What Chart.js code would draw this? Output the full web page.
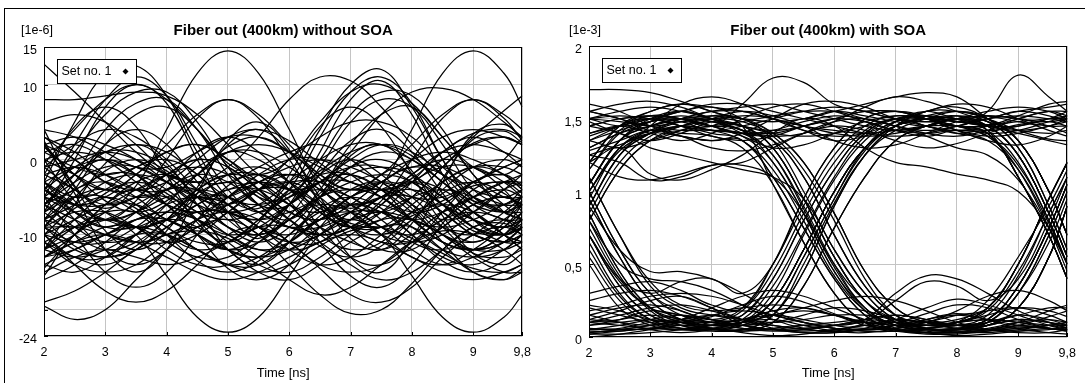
<!DOCTYPE html>
<html>
<head>
<meta charset="utf-8">
<script src="https://cdn.jsdelivr.net/npm/chart.js@4"></script>
<style>
  body { margin: 0; background: #fff; width: 1085px; height: 383px; overflow: hidden; position: relative; }
  #frame { position: absolute; left: 4px; top: 8px; width: 1081px; height: 375px; border-left: 1px solid #000; border-top: 1px solid #000; box-sizing: border-box; }
  canvas { position: absolute; top: 9px; }
  #noSoa { left: 5px; }
  #withSoa { left: 540px; }
</style>
</head>
<body>
<div id="frame"></div>
<canvas id="noSoa" width="535" height="374"></canvas>
<canvas id="withSoa" width="545" height="374"></canvas>
<script>
// sample times of every trace [ns]
const timeNs = [2, 2.5, 3, 3.5, 4, 4.5, 5, 5.5, 6, 6.5, 7, 7.5, 8, 8.5, 9, 9.5, 9.8];
const timeTicks = [2, 3, 4, 5, 6, 7, 8, 9, 9.8];
const noSoaTicks = [15, 10, 0, -10, -20, -23.5];
const soaTicks = [0, 0.5, 1, 1.5, 2];

// fiber out without SOA, units of 1e-6
const noSoaTraces = [
  [-5, 2, 8, 11, 8.5, 2, -4, -7, -4, 3, 9, 11, 7.5, 0, -5, -7, -5.5],
  [-7, 0, 7, 10, 7.5, 0, -7, -10.5, -6, 1, 8, 10.5, 6, -2, -8, -10, -8],
  [-3, 5, 11.5, 12.5, 8.5, 1, -5, -6.5, -3, 4, 10, 12, 7, 0, -5.5, -6, -4],
  [-8, -3, 2, 4, 2, -3, -8, -10, -7.5, -2, 2.5, 4, 1, -4.5, -9, -10, -8.5],
  [-9, -5, -1.5, 0, -1.5, -5, -9, -10, -8, -4.5, -1, 0, -2, -6, -9.5, -10, -9],
  [-12, -8, -4.5, -3, -4.5, -8, -12, -13, -11, -7.5, -4, -3, -5, -9, -12.5, -13, -12],
  [-5, -2, 1, 2, 1, -2, -5, -6, -4.5, -1.5, 1, 2, 0.5, -3, -5.5, -6, -5],
  [-14.5, -10, -6, -4, -6, -10, -14.5, -16, -14, -9, -5, -4, -6.5, -11, -15, -16, -14.5],
  [-6, -2, 4, 7.5, 8, 4, -2, -6, -6, -1, 5, 8, 7, 2, -4, -6, -6],
  [-12, -6, -0.5, 2, -0.5, -6, -12, -14, -11, -5, 0.5, 2, -1.5, -7.5, -12.5, -14, -12.5],
  [-0.5, 4, 8, 10, 8, 4, -0.5, -2, 0, 5, 9, 10, 7.5, 3, -1, -2, -0.5],
  [-14, -12, -10, -9, -10, -12, -14, -15, -14, -11.5, -9.5, -9, -10.5, -12.5, -14.5, -15, -14],
  [2, -3.7, -9.5, -12, -9.5, -3.7, 2, 4, 1, -5, -10.5, -12, -8.5, -2.5, 2.7, 3.8, 2.2],
  [-3.5, -8, -12, -14, -12, -8, -3.5, -2, -4, -9, -13, -14, -11.5, -7, -3, -2, -3.5],
  [1.7, -2, -5.5, -7, -5.5, -2, 1.7, 3, 1, -2.5, -6, -7, -5, -1, 2.2, 3, 2],
  [-10, -14, -17.5, -19, -17.5, -14, -10, -9, -11, -14.5, -18, -19, -17, -13, -10, -9, -10],
  [3, 0, -3, -4, -3, 0, 3, 4, 2.5, -0.5, -3, -4, -2.5, 1, 3.5, 4, 3],
  [-5, -10, -15, -17, -15, -10, -5, -3, -5.5, -11, -15.5, -17, -14, -8.5, -4, -3, -4.5],
  [-4, -6, -8, -9, -8, -6, -4, -3, -4, -6.5, -8.5, -9, -7.5, -5.5, -3.5, -3, -3.5],
  [2.5, -4.5, -12, -15, -12, -4.5, 2.5, 5, 1.3, -6, -13, -15, -10.5, -3, 3.4, 4.7, 2.8],
  [4, -3.5, -6.5, -3.5, 4, 11.5, 14.5, 11.5, 4, -3.5, -6.5, -3.5, 4, 11.5, 14.5, 11.5, 7],
  [-3, -7, -9, -7, -3, 1, 3, 1, -3, -7, -9, -7, -3, 1, 3, 1, -1],
  [-8, -11.5, -13, -11.5, -8, -4.5, -3, -4.5, -8, -11.5, -13, -11.5, -8, -4.5, -3, -4.5, -6.5],
  [0, -5.5, -8, -5.5, 0, 5.5, 8, 5.5, 0, -5.5, -8, -5.5, 0, 5.5, 8, 5.5, 2.5],
  [-11, -14, -15, -14, -11, -8, -7, -8, -11, -14, -15, -14, -11, -8, -7, -8, -9.5],
  [2, -2, -4, -2, 2, 6, 8, 6, 2, -2, -4, -2, 2, 6, 8, 6, 4],
  [-15.5, -10, -8, -10, -15.5, -21, -23, -21, -15.5, -10, -8, -10, -15.5, -21, -23, -21, -18],
  [-6, -2, 0, -2, -6, -10, -12, -10, -6, -2, 0, -2, -6, -10, -12, -10, -8],
  [-10, -6.5, -5, -6.5, -10, -13.5, -15, -13.5, -10, -6.5, -5, -6.5, -10, -13.5, -15, -13.5, -11.5],
  [-2, 4.4, 7, 4.4, -2, -8.4, -11, -8.4, -2, 4.4, 7, 4.4, -2, -8.4, -11, -8.4, -4.8],
  [-13, -11, -10, -11, -13, -15, -16, -15, -13, -11, -10, -11, -13, -15, -16, -15, -14],
  [-19.5, -21.3, -20, -16, -12, -9, -8, -10, -14, -18, -20.5, -20, -16.5, -12, -9, -8.5, -10],
  [-19, -17.5, -15, -12, -10, -9.5, -10.5, -13, -16, -18, -17, -14, -11, -9.5, -10, -12, -14],
  [12.7, 9, 5, 1, -2, -3, -1, 3, 8, 11, 10.5, 7, 2, -2, -3, 0, 3],
  [8, 8, 8.5, 9, 8.5, 6, 2, -2, -4, -3, 1, 6, 9, 9.5, 8, 5, 3],
  [-10, -13, -13, -10, -6, -2, 1, 0, -3, -7, -9, -8, -5, -1, 3, 6.5, 8.5],
  [-3, -5, -4, -1, 0, -2, -6, -9, -10, -8, -5, -4, -6, -9, -10, -8, -6],
  [-9, -7, -7, -9, -11, -10, -7, -4, -3, -5, -9, -12, -12, -9, -6, -5, -6],
  [1, 2, 0, -3, -6, -7, -5, -2, 0, 0, -2, -5, -7, -6, -3, -1, 0],
  [-6, -9, -11, -10, -7, -5, -5, -7, -9, -8, -5, -3, -4, -7, -10, -11, -10],
  [-12, -10, -7, -5, -5, -7, -10, -12, -11, -8, -6, -6, -8, -11, -12, -11, -9],
  [-1, -4, -6, -5, -2, 0, -1, -4, -7, -8, -6, -3, -1, -2, -5, -7, -7],
  [-16, -14, -11, -8, -7, -8, -11, -14, -15, -13, -10, -8, -8, -10, -13, -15, -15],
  [4, 3, 1, -1, -1, 1, 3, 3, 1, -2, -4, -3, 0, 3, 4, 3, 2],
  [-7, -4, -3, -5, -8, -9, -7, -4, -2, -3, -6, -9, -10, -8, -5, -3, -3],
  [-4, -1, 1, 1, -1, -5, -9, -11, -9, -5, -1, 1, 0, -3, -7, -10, -11],
  [-14, -15, -13, -10, -8, -9, -12, -15, -16, -14, -11, -9, -9, -12, -15, -16, -15],
  [2, 0, -3, -5, -4, -1, 1, 1, -1, -4, -6, -5, -2, 1, 2, 1, 0],
  [-6, -3, -1, -1, -3, -6, -9, -10, -8, -5, -2, -1, -2, -5, -8, -10, -9],
  [-10, -8, -6, -6, -8, -10, -12, -11, -8, -5, -4, -5, -8, -11, -12, -11, -9],
  [-2, -4, -7, -9, -8, -5, -2, -1, -3, -6, -9, -10, -8, -4, -1, 0, -1],
  [-8, -6, -3, -2, -3, -5, -7, -8, -7, -5, -3, -2, -3, -6, -8, -9, -8],
  [0, 1, 0, -2, -5, -8, -10, -9, -6, -3, -1, -1, -3, -6, -9, -10, -9],
  [-13, -11, -9, -9, -11, -13, -13, -10, -6, -3, -2, -4, -8, -11, -12, -10, -7],
  [-4, -7, -9, -9, -7, -4, -2, -2, -4, -7, -9, -9, -6, -3, -1, -1, -2],
  [-11, -9, -8, -9, -12, -14, -14, -11, -8, -6, -7, -10, -13, -14, -12, -9, -7],
  [3, 1, -2, -4, -4, -2, 1, 2, 1, -1, -3, -4, -3, 0, 2, 3, 2],
  [-7, -10, -12, -11, -8, -4, -2, -3, -6, -10, -12, -11, -7, -3, -1, -2, -4],
  [-5, -6, -6, -4, -2, -1, -2, -5, -8, -10, -9, -6, -3, -1, -1, -3, -5],
  [-9, -12, -13, -12, -9, -6, -4, -4, -6, -9, -11, -12, -10, -7, -5, -4, -5],
  [1, -1, -2, -1, 1, 2, 0, -3, -6, -7, -5, -2, 0, 1, 0, -2, -4],
  [-12, -9, -7, -7, -9, -12, -14, -13, -10, -7, -6, -7, -10, -13, -14, -12, -10],
  [-3, -1, 0, -1, -3, -5, -5, -3, -1, 0, -1, -3, -6, -8, -7, -4, -2],
  [-15, -13, -12, -13, -14, -13, -11, -9, -9, -11, -14, -16, -15, -12, -9, -8, -9],
  [-1, 2, 4, 3, 0, -4, -7, -8, -6, -3, 0, 2, 1, -2, -6, -8, -8],
  [-8, -5, -4, -6, -9, -11, -11, -8, -4, -2, -2, -4, -7, -10, -11, -9, -6],
  [-4, -6, -5, -2, 1, 2, 0, -4, -8, -10, -9, -6, -2, 0, -1, -4, -7],
  [-11, -13, -14, -12, -9, -7, -7, -9, -12, -14, -13, -10, -7, -6, -7, -10, -12],
  [2, 3, 2, 0, -3, -6, -7, -6, -3, 0, 2, 2, 0, -3, -6, -7, -6],
  [-6, -8, -10, -11, -10, -8, -5, -3, -2, -4, -7, -10, -11, -10, -7, -4, -3],
  [-13, -10, -6, -3, -2, -4, -7, -10, -12, -11, -8, -5, -3, -4, -7, -10, -12],
  [5, 6, 5, 2, -2, -5, -6, -4, 0, 3, 5, 5, 3, -1, -4, -5, -4],
  [-9, -9, -10, -11, -11, -9, -6, -4, -4, -6, -9, -11, -11, -9, -6, -5, -6],
  [-4, 1, 6, 9, 9, 5, -1, -5, -5, 0, 6, 9, 8.5, 4, -2, -5, -5],
  [-9, -4, 2, 6, 7, 4, -1, -6, -8, -4, 2, 6, 7, 3, -2, -7, -8],
  [-5, -7, -8, -7, -5, -4, -5, -7, -9, -10, -9, -7, -5, -4, -5, -7, -8],
  [-2, -1, -2, -4, -6, -7, -6, -4, -3, -3, -5, -7, -8, -7, -5, -3, -2],
  [-10, -11, -10, -8, -7, -8, -10, -12, -12, -10, -8, -7, -8, -10, -12, -12, -11],
  [-7, -5, -5, -7, -10, -12, -11, -8, -5, -4, -5, -8, -11, -12, -10, -7, -5],
  [0, -2, -4, -4, -2, 0, -1, -4, -7, -8, -6, -3, -1, -1, -3, -6, -8],
  [-13, -12, -10, -8, -8, -10, -12, -13, -12, -9, -7, -7, -9, -12, -13, -12, -10],
  [-3, -6, -8, -7, -4, -2, -3, -6, -9, -9, -7, -4, -3, -5, -8, -9, -8],
  [-8, -9, -8, -6, -4, -4, -6, -9, -11, -10, -7, -5, -5, -7, -10, -11, -10],
  [-1, 0, 1, 0, -2, -3, -3, -1, 1, 2, 0, -3, -5, -5, -3, -1, 0],
  [-12, -13, -12, -10, -10, -12, -14, -14, -11, -8, -7, -9, -12, -14, -13, -11, -9],
  [-6, -4, -2, -2, -4, -7, -8, -7, -5, -3, -3, -5, -8, -9, -8, -6, -5],
  [-9, -11, -11, -9, -6, -5, -6, -9, -11, -11, -8, -5, -4, -6, -9, -11, -11]
];

// fiber out with SOA, units of 1e-3
const soaTraces = [
  [0.05, 0.06, 0.1, 0.12, 0.1, 0.06, 0.04, 0.05, 0.08, 0.12, 0.15, 0.12, 0.08, 0.05, 0.04, 0.05, 0.07],
  [0.25, 0.3, 0.32, 0.28, 0.2, 0.12, 0.06, 0.03, 0.03, 0.06, 0.12, 0.2, 0.26, 0.22, 0.15, 0.08, 0.05],
  [0.02, 0.02, 0.03, 0.05, 0.08, 0.12, 0.18, 0.2, 0.15, 0.08, 0.04, 0.02, 0.02, 0.04, 0.08, 0.14, 0.18],
  [0.1, 0.15, 0.2, 0.22, 0.18, 0.12, 0.08, 0.06, 0.08, 0.12, 0.15, 0.12, 0.08, 0.12, 0.35, 0.75, 1.05],
  [0.03, 0.05, 0.08, 0.1, 0.1, 0.08, 0.05, 0.03, 0.03, 0.05, 0.08, 0.1, 0.08, 0.08, 0.2, 0.55, 0.9],
  [0.18, 0.22, 0.28, 0.3, 0.28, 0.22, 0.15, 0.1, 0.06, 0.05, 0.06, 0.1, 0.15, 0.2, 0.5, 0.95, 1.2],
  [0.08, 0.1, 0.12, 0.1, 0.08, 0.1, 0.25, 0.6, 1.0, 1.3, 1.45, 1.5, 1.52, 1.45, 1.25, 0.85, 0.55],
  [0.2, 0.15, 0.1, 0.06, 0.05, 0.05, 0.15, 0.45, 0.9, 1.25, 1.45, 1.55, 1.55, 1.5, 1.35, 1.0, 0.7],
  [0.03, 0.05, 0.08, 0.12, 0.15, 0.15, 0.4, 0.8, 1.15, 1.4, 1.5, 1.45, 1.4, 1.4, 1.1, 0.7, 0.4],
  [0.12, 0.18, 0.25, 0.28, 0.2, 0.1, 0.25, 0.6, 1.0, 1.3, 1.45, 1.5, 1.48, 1.45, 1.42, 1.45, 1.5],
  [0.04, 0.04, 0.06, 0.08, 0.06, 0.05, 0.1, 0.35, 0.75, 1.1, 1.35, 1.45, 1.5, 1.55, 1.58, 1.55, 1.5],
  [0.3, 0.35, 0.38, 0.32, 0.22, 0.2, 0.5, 0.95, 1.3, 1.5, 1.55, 1.5, 1.42, 1.38, 1.4, 1.45, 1.48],
  [1.05, 1.35, 1.45, 1.5, 1.48, 1.45, 1.3, 0.95, 0.55, 0.25, 0.1, 0.05, 0.04, 0.06, 0.1, 0.12, 0.1],
  [0.9, 1.25, 1.4, 1.48, 1.5, 1.4, 1.35, 1.1, 0.7, 0.35, 0.15, 0.1, 0.12, 0.18, 0.2, 0.15, 0.1],
  [1.2, 1.45, 1.5, 1.45, 1.4, 1.35, 1.1, 0.75, 0.4, 0.15, 0.05, 0.03, 0.05, 0.1, 0.15, 0.2, 0.2],
  [0.8, 1.15, 1.35, 1.45, 1.5, 1.5, 1.4, 1.2, 0.85, 0.45, 0.2, 0.1, 0.08, 0.12, 0.35, 0.75, 1.05],
  [1.05, 1.35, 1.5, 1.55, 1.5, 1.45, 1.3, 0.95, 0.55, 0.25, 0.1, 0.08, 0.1, 0.2, 0.5, 0.95, 1.2],
  [0.95, 1.3, 1.42, 1.4, 1.38, 1.3, 1.05, 0.65, 0.3, 0.1, 0.05, 0.05, 0.06, 0.08, 0.2, 0.55, 0.9],
  [1.05, 1.35, 1.45, 1.5, 1.52, 1.5, 1.48, 1.5, 1.55, 1.52, 1.48, 1.45, 1.5, 1.45, 1.25, 0.85, 0.55],
  [0.9, 1.25, 1.4, 1.5, 1.55, 1.58, 1.6, 1.55, 1.5, 1.45, 1.42, 1.45, 1.5, 1.5, 1.35, 1.0, 0.7],
  [1.2, 1.45, 1.55, 1.6, 1.58, 1.55, 1.5, 1.45, 1.42, 1.4, 1.42, 1.45, 1.45, 1.4, 1.1, 0.7, 0.4],
  [1.05, 1.35, 1.48, 1.55, 1.5, 1.42, 1.4, 1.45, 1.5, 1.55, 1.55, 1.5, 1.45, 1.4, 1.42, 1.48, 1.52],
  [0.8, 1.15, 1.35, 1.42, 1.45, 1.48, 1.52, 1.55, 1.55, 1.5, 1.45, 1.4, 1.38, 1.42, 1.5, 1.55, 1.55],
  [0.9, 1.25, 1.45, 1.6, 1.65, 1.6, 1.5, 1.42, 1.38, 1.4, 1.48, 1.55, 1.6, 1.58, 1.5, 1.42, 1.38],
  [0.7, 0.35, 0.15, 0.08, 0.05, 0.04, 0.05, 0.08, 0.1, 0.12, 0.1, 0.06, 0.04, 0.03, 0.05, 0.08, 0.1],
  [0.95, 0.55, 0.25, 0.12, 0.08, 0.1, 0.15, 0.18, 0.15, 0.1, 0.05, 0.03, 0.03, 0.05, 0.08, 0.06, 0.04],
  [0.5, 0.2, 0.08, 0.05, 0.06, 0.1, 0.15, 0.2, 0.25, 0.28, 0.25, 0.18, 0.1, 0.05, 0.03, 0.03, 0.05],
  [0.85, 0.45, 0.2, 0.1, 0.08, 0.06, 0.05, 0.06, 0.08, 0.1, 0.1, 0.08, 0.08, 0.12, 0.35, 0.75, 1.05],
  [0.7, 0.38, 0.2, 0.15, 0.12, 0.1, 0.08, 0.05, 0.04, 0.05, 0.06, 0.08, 0.1, 0.2, 0.5, 0.95, 1.2],
  [1.0, 0.6, 0.3, 0.18, 0.12, 0.08, 0.05, 0.04, 0.05, 0.08, 0.12, 0.1, 0.06, 0.08, 0.2, 0.55, 0.9],
  [0.7, 0.35, 0.15, 0.1, 0.08, 0.1, 0.25, 0.6, 1.0, 1.3, 1.45, 1.5, 1.48, 1.45, 1.25, 0.85, 0.55],
  [0.95, 0.55, 0.25, 0.12, 0.06, 0.05, 0.15, 0.45, 0.9, 1.25, 1.45, 1.55, 1.58, 1.5, 1.35, 1.0, 0.7],
  [0.55, 0.25, 0.1, 0.06, 0.08, 0.15, 0.4, 0.8, 1.15, 1.4, 1.5, 1.5, 1.45, 1.4, 1.1, 0.7, 0.4],
  [0.85, 0.45, 0.2, 0.1, 0.06, 0.05, 0.1, 0.35, 0.75, 1.1, 1.35, 1.45, 1.5, 1.52, 1.5, 1.48, 1.5],
  [0.7, 0.4, 0.3, 0.38, 0.4, 0.3, 0.5, 0.95, 1.3, 1.5, 1.55, 1.52, 1.48, 1.45, 1.45, 1.5, 1.55],
  [1.0, 0.6, 0.3, 0.15, 0.1, 0.1, 0.25, 0.6, 1.0, 1.3, 1.45, 1.48, 1.45, 1.45, 1.5, 1.55, 1.52],
  [1.45, 1.5, 1.52, 1.5, 1.45, 1.45, 1.3, 0.95, 0.55, 0.25, 0.1, 0.06, 0.05, 0.08, 0.12, 0.1, 0.06],
  [1.3, 1.4, 1.48, 1.55, 1.58, 1.5, 1.4, 1.2, 0.85, 0.45, 0.2, 0.1, 0.06, 0.05, 0.06, 0.08, 0.1],
  [1.6, 1.55, 1.45, 1.38, 1.35, 1.35, 1.1, 0.75, 0.4, 0.15, 0.05, 0.03, 0.03, 0.05, 0.1, 0.18, 0.22],
  [1.2, 1.1, 1.08, 1.12, 1.18, 1.18, 1.1, 0.85, 0.5, 0.25, 0.12, 0.08, 0.08, 0.12, 0.35, 0.75, 1.05],
  [1.5, 1.52, 1.5, 1.45, 1.42, 1.4, 1.35, 1.1, 0.7, 0.35, 0.15, 0.1, 0.1, 0.2, 0.5, 0.95, 1.2],
  [1.35, 1.45, 1.55, 1.6, 1.55, 1.45, 1.05, 0.65, 0.3, 0.1, 0.05, 0.05, 0.06, 0.08, 0.2, 0.55, 0.9],
  [1.45, 1.5, 1.52, 1.5, 1.45, 1.6, 1.78, 1.75, 1.6, 1.55, 1.5, 1.48, 1.5, 1.45, 1.25, 0.85, 0.55],
  [1.7, 1.7, 1.68, 1.62, 1.55, 1.5, 1.48, 1.5, 1.55, 1.6, 1.65, 1.68, 1.65, 1.5, 1.35, 1.0, 0.7],
  [1.3, 1.4, 1.45, 1.5, 1.55, 1.55, 1.5, 1.45, 1.4, 1.38, 1.4, 1.45, 1.5, 1.42, 1.1, 0.7, 0.4],
  [1.5, 1.55, 1.58, 1.55, 1.5, 1.45, 1.42, 1.45, 1.5, 1.55, 1.55, 1.5, 1.45, 1.55, 1.8, 1.65, 1.55],
  [1.4, 1.45, 1.5, 1.55, 1.6, 1.6, 1.55, 1.5, 1.45, 1.4, 1.38, 1.4, 1.45, 1.5, 1.55, 1.58, 1.6],
  [1.25, 1.32, 1.4, 1.45, 1.48, 1.45, 1.4, 1.38, 1.4, 1.45, 1.5, 1.52, 1.5, 1.45, 1.4, 1.35, 1.32],
  [1.45, 1.4, 1.3, 1.25, 1.2, 1.15, 1.1, 0.95, 0.6, 0.3, 0.12, 0.06, 0.05, 0.08, 0.12, 0.1, 0.08],
  [1.2, 1.3, 1.12, 1.08, 1.15, 1.25, 1.4, 1.5, 1.45, 1.3, 1.2, 1.17, 1.12, 1.08, 1.0, 0.75, 0.5],
  [0.9, 0.6, 0.45, 0.45, 0.4, 0.3, 0.18, 0.1, 0.08, 0.12, 0.3, 0.42, 0.4, 0.3, 0.18, 0.1, 0.06],
  [0.15, 0.2, 0.22, 0.18, 0.12, 0.2, 0.5, 0.9, 1.25, 1.45, 1.52, 1.5, 1.45, 1.42, 1.45, 1.5, 1.52],
  [1.55, 1.5, 1.42, 1.45, 1.52, 1.5, 1.35, 1.0, 0.6, 0.3, 0.12, 0.08, 0.1, 0.12, 0.1, 0.06, 0.05],
  [1.1, 0.7, 0.35, 0.2, 0.15, 0.12, 0.1, 0.12, 0.15, 0.15, 0.12, 0.1, 0.08, 0.15, 0.42, 0.85, 1.1],
  [1.15, 1.4, 1.5, 1.48, 1.42, 1.45, 1.5, 1.55, 1.58, 1.55, 1.5, 1.48, 1.52, 1.48, 1.3, 0.9, 0.6],
  [0.8, 0.42, 0.18, 0.08, 0.05, 0.08, 0.2, 0.55, 0.95, 1.3, 1.48, 1.55, 1.5, 1.48, 1.3, 0.9, 0.6],
  [0.85, 1.2, 1.38, 1.45, 1.42, 1.4, 1.25, 0.9, 0.5, 0.2, 0.08, 0.05, 0.05, 0.1, 0.3, 0.7, 1.0],
  [0.12, 0.1, 0.08, 0.12, 0.2, 0.28, 0.32, 0.28, 0.2, 0.12, 0.08, 0.1, 0.18, 0.28, 0.32, 0.25, 0.18],
  [0.0, 0.02, 0.05, 0.08, 0.06, 0.03, 0.01, 0.02, 0.05, 0.08, 0.06, 0.03, 0.01, 0.02, 0.04, 0.06, 0.05],
  [1.35, 1.3, 1.35, 1.42, 1.5, 1.55, 1.52, 1.45, 1.35, 1.3, 1.32, 1.4, 1.48, 1.52, 1.5, 1.45, 1.4],
  [1.55, 1.6, 1.62, 1.58, 1.5, 1.42, 1.38, 1.4, 1.48, 1.58, 1.65, 1.62, 1.55, 1.48, 1.42, 1.4, 1.42],
  [1.0, 1.3, 1.4, 1.38, 1.35, 1.4, 1.5, 1.6, 1.62, 1.58, 1.5, 1.45, 1.42, 1.45, 1.52, 1.6, 1.62],
  [1.4, 1.45, 1.4, 1.35, 1.4, 1.5, 1.58, 1.6, 1.55, 1.48, 1.42, 1.4, 1.42, 1.38, 1.15, 0.75, 0.45],
  [1.1, 0.7, 0.38, 0.22, 0.18, 0.2, 0.22, 0.2, 0.15, 0.1, 0.08, 0.08, 0.1, 0.12, 0.1, 0.08, 0.06],
  [1.0, 1.3, 1.42, 1.48, 1.45, 1.42, 1.2, 0.85, 0.45, 0.2, 0.08, 0.04, 0.03, 0.04, 0.06, 0.08, 0.08],
  [1.55, 1.5, 1.45, 1.48, 1.5, 1.48, 1.38, 1.15, 0.8, 0.4, 0.15, 0.06, 0.05, 0.1, 0.3, 0.65, 0.95],
  [0.1, 0.08, 0.06, 0.05, 0.06, 0.08, 0.2, 0.55, 0.95, 1.28, 1.45, 1.5, 1.5, 1.42, 1.2, 0.8, 0.5],
  [0.65, 0.3, 0.12, 0.06, 0.05, 0.1, 0.3, 0.7, 1.08, 1.35, 1.48, 1.5, 1.48, 1.5, 1.55, 1.52, 1.48],
  [0.06, 0.05, 0.06, 0.1, 0.15, 0.18, 0.15, 0.1, 0.06, 0.04, 0.04, 0.06, 0.1, 0.18, 0.45, 0.85, 1.1],
  [0.8, 0.5, 0.4, 0.38, 0.32, 0.22, 0.12, 0.06, 0.04, 0.1, 0.25, 0.38, 0.35, 0.25, 0.4, 0.8, 1.1],
  [1.25, 1.2, 1.08, 1.1, 1.18, 1.2, 1.3, 1.4, 1.48, 1.5, 1.45, 1.38, 1.3, 1.25, 1.08, 0.75, 0.5],
  [1.5, 1.48, 1.45, 1.42, 1.42, 1.38, 1.2, 0.85, 0.45, 0.18, 0.06, 0.03, 0.03, 0.05, 0.07, 0.06, 0.04],
  [0.05, 0.08, 0.12, 0.15, 0.12, 0.08, 0.15, 0.5, 0.92, 1.25, 1.42, 1.5, 1.55, 1.52, 1.48, 1.45, 1.45],
  [1.35, 1.42, 1.48, 1.5, 1.45, 1.38, 1.3, 1.32, 1.4, 1.48, 1.52, 1.5, 1.42, 1.35, 1.32, 1.38, 1.45],
  [1.48, 1.4, 1.35, 1.4, 1.48, 1.52, 1.5, 1.42, 1.35, 1.38, 1.45, 1.52, 1.55, 1.5, 1.42, 1.36, 1.35],
  [1.28, 1.35, 1.42, 1.38, 1.3, 1.28, 1.32, 1.4, 1.45, 1.42, 1.35, 1.3, 1.33, 1.4, 1.46, 1.48, 1.45],
  [0.08, 0.12, 0.18, 0.15, 0.1, 0.08, 0.1, 0.15, 0.2, 0.18, 0.12, 0.08, 0.1, 0.15, 0.2, 0.18, 0.14],
  [0.15, 0.1, 0.05, 0.03, 0.05, 0.1, 0.12, 0.08, 0.04, 0.03, 0.06, 0.12, 0.16, 0.12, 0.06, 0.03, 0.02],
  [0.22, 0.18, 0.12, 0.1, 0.14, 0.22, 0.28, 0.24, 0.16, 0.1, 0.1, 0.16, 0.22, 0.2, 0.12, 0.06, 0.05],
  [1.0, 1.28, 1.4, 1.45, 1.42, 1.35, 1.15, 0.8, 0.42, 0.18, 0.08, 0.06, 0.1, 0.25, 0.55, 0.9, 1.15],
  [0.6, 0.28, 0.12, 0.08, 0.1, 0.18, 0.45, 0.85, 1.2, 1.42, 1.5, 1.45, 1.4, 1.35, 1.15, 0.78, 0.5],
  [1.5, 1.45, 1.48, 1.52, 1.48, 1.42, 1.25, 0.88, 0.48, 0.2, 0.08, 0.05, 0.06, 0.1, 0.15, 0.12, 0.08],
  [0.1, 0.12, 0.15, 0.12, 0.08, 0.12, 0.35, 0.72, 1.1, 1.38, 1.5, 1.52, 1.48, 1.46, 1.48, 1.5, 1.5],
  [1.38, 1.45, 1.5, 1.45, 1.38, 1.35, 1.38, 1.45, 1.5, 1.48, 1.42, 1.38, 1.42, 1.38, 1.18, 0.8, 0.5],
  [0.02, 0.04, 0.06, 0.05, 0.04, 0.04, 0.06, 0.08, 0.06, 0.04, 0.04, 0.06, 0.08, 0.1, 0.3, 0.7, 1.0],
  [1.15, 1.42, 1.52, 1.5, 1.45, 1.4, 1.42, 1.48, 1.52, 1.5, 1.45, 1.42, 1.45, 1.5, 1.52, 1.5, 1.48],
  [0.75, 0.4, 0.2, 0.12, 0.1, 0.12, 0.15, 0.12, 0.08, 0.06, 0.08, 0.12, 0.15, 0.12, 0.08, 0.06, 0.05]
];

Chart.defaults.font.family = '"Liberation Sans", Arial, sans-serif';
Chart.defaults.color = '#000';

function commaLabel(value){
  return String(value).replace('.', ',');
}

// frame, tick marks, titles and the boxed "Set no. 1" legend
const eyeDecor = {
  id: 'eyeDecor',
  afterDatasetsDraw(chart, args, opts) {
    const {ctx, chartArea: a, scales} = chart;
    ctx.save();
    ctx.strokeStyle = '#000';
    ctx.lineWidth = 1;
    ctx.beginPath();
    scales.x.ticks.forEach(t => {
      const px = Math.round(scales.x.getPixelForValue(t.value)) + 0.5;
      ctx.moveTo(px, a.bottom);
      ctx.lineTo(px, a.bottom - 4);
    });
    scales.y.ticks.forEach(t => {
      const py = Math.round(scales.y.getPixelForValue(t.value)) + 0.5;
      ctx.moveTo(a.left, py);
      ctx.lineTo(a.left + 4, py);
    });
    ctx.stroke();
    ctx.strokeRect(Math.round(a.left) + 0.5, Math.round(a.top) + 0.5,
      Math.round(a.right - a.left) - 1, Math.round(a.bottom - a.top) - 1);

    // legend box
    const bx = Math.round(a.left) + 13.5, by = Math.round(a.top) + 12.5;
    ctx.fillStyle = '#fff';
    ctx.fillRect(bx, by, 79, 24);
    ctx.strokeRect(bx, by, 79, 24);
    ctx.fillStyle = '#000';
    ctx.font = '12.5px "Liberation Sans", Arial, sans-serif';
    ctx.textBaseline = 'middle';
    ctx.textAlign = 'left';
    ctx.fillText('Set no. 1', bx + 4, by + 12.5);
    ctx.beginPath();
    ctx.moveTo(bx + 68, by + 9);
    ctx.lineTo(bx + 71, by + 12);
    ctx.lineTo(bx + 68, by + 15);
    ctx.lineTo(bx + 65, by + 12);
    ctx.closePath();
    ctx.fill();

    // title and unit
    ctx.font = 'bold 15px "Liberation Sans", Arial, sans-serif';
    ctx.textAlign = 'center';
    ctx.fillText(opts.title, (a.left + a.right) / 2, 22);
    ctx.font = '12.5px "Liberation Sans", Arial, sans-serif';
    ctx.textAlign = 'left';
    ctx.fillText(opts.unit, opts.unitX, 22);
    ctx.restore();
  }
};

function makeEyeChart(canvasId, traces, yMin, yMax, yTicks, cfg){
  const datasets = traces.map(trace => ({
    data: timeNs.map((t, i) => ({x: t, y: trace[i]})),
    borderColor: '#000',
    borderWidth: 1.25,
    pointRadius: 0,
    tension: 0.4
  }));
  return new Chart(document.getElementById(canvasId), {
    type: 'line',
    data: {datasets: datasets},
    options: {
      responsive: false,
      animation: false,
      events: [],
      layout: {padding: {top: cfg.top, right: cfg.right, left: 0, bottom: 0}},
      plugins: {
        legend: {display: false},
        tooltip: {enabled: false},
        eyeDecor: {title: cfg.title, unit: cfg.unit, unitX: cfg.unitX}
      },
      scales: {
        x: {
          type: 'linear',
          min: 2,
          max: 9.8,
          afterFit: s => { s.height = cfg.xHeight; },
          afterBuildTicks: s => { s.ticks = timeTicks.map(v => ({value: v})); },
          grid: {color: '#c4c4c4', drawTicks: false},
          border: {display: false},
          ticks: {autoSkip: false, maxRotation: 0, padding: 9, font: {size: 12.5}, callback: v => commaLabel(v)},
          title: {display: true, text: 'Time [ns]', font: {size: 13}, padding: {top: 0, bottom: 2}}
        },
        y: {
          type: 'linear',
          min: yMin,
          max: yMax,
          afterFit: s => { s.width = cfg.yWidth; },
          afterBuildTicks: s => { s.ticks = yTicks.map(v => ({value: v})); },
          grid: {color: '#c4c4c4', drawTicks: false},
          border: {display: false},
          ticks: {autoSkip: false, padding: 7, labelOffset: 4, font: {size: 12.5}, callback: cfg.yLabel}
        }
      }
    },
    plugins: [eyeDecor]
  });
}

// the axis minimum is shown rounded to a whole number, as in the source plot
makeEyeChart('noSoa', noSoaTraces, -23.5, 15, noSoaTicks, {
  top: 38, right: 16, xHeight: 47, yWidth: 39,
  title: 'Fiber out (400km) without SOA', unit: '[1e-6]', unitX: 16,
  yLabel: v => (v === -20 ? '' : String(Math.sign(v) * Math.round(Math.abs(v))))
});

makeEyeChart('withSoa', soaTraces, 0, 2, soaTicks, {
  top: 37, right: 12, xHeight: 46, yWidth: 49,
  title: 'Fiber out (400km) with SOA', unit: '[1e-3]', unitX: 29,
  yLabel: v => commaLabel(v)
});
</script>
</body>
</html>
